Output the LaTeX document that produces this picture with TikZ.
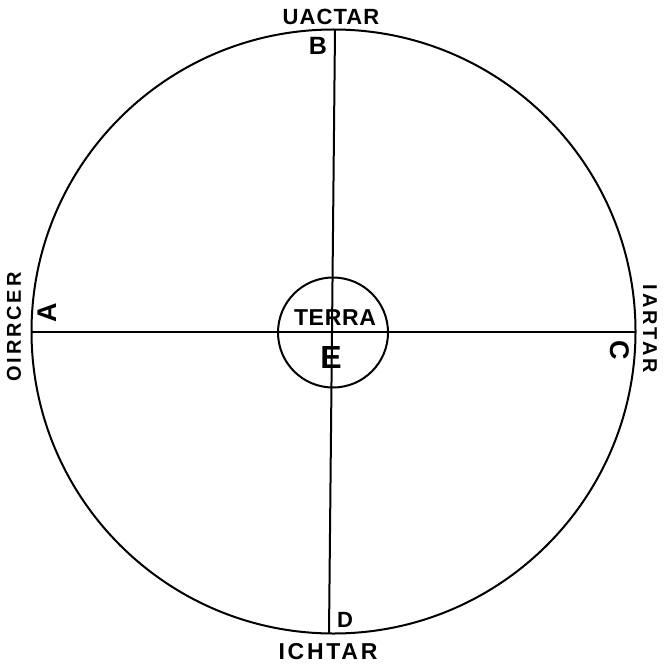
\documentclass[tikz,border=0pt]{standalone}
\usepackage{fontspec}
\setmainfont{Liberation Sans}
\newcommand{\lblfont}[2]{\bfseries\fontsize{#1}{#1}\selectfont\addfontfeature{LetterSpace=#2}}
\begin{document}
\begin{tikzpicture}[x=1pt,y=-1pt,
  line/.style={line width=2pt,black},
  ring/.style={draw,line width=2pt,circle,inner sep=0pt},
  lbl/.style 2 args={inner sep=0pt,font=\lblfont{#1}{#2}}]
\useasboundingbox (0,0) rectangle (666,671);
% circles
\node[ring,minimum size=604pt] (big) at (333.5,331.5) {};
\node[ring,minimum size=110pt] (terra) at (333,332.5) {};
% axis end points on the big circle
\coordinate (top) at (335,29.5);
\coordinate (bot) at (329,633.5);
\coordinate (lft) at (31.5,332);
\coordinate (rgt) at (635.5,332);
\draw[line] (top) -- (bot);
\draw[line] (lft) -- (rgt);
% labels
\node[lbl={22}{5}] (uactar) at (331,17) {UACTAR};
\node[lbl={23}{12}] (ichtar) at (328,652) {ICHTAR};
\node[lbl={20}{14},rotate=90] (oirrcer) at (14,327) {OIRRCER};
\node[lbl={20}{14},rotate=-90] (iartar) at (650,329) {IARTAR};
\node[lbl={25}{0}] (B) at (318,46) {B};
\node[lbl={22}{0}] (D) at (345,620) {D};
\node[lbl={27}{0},rotate=90] (A) at (47,313) {A};
\node[lbl={27}{0},rotate=-90] (C) at (620,350) {C};
\node[lbl={23}{3}] (terratxt) at (335,318) {TERRA};
\node[lbl={32}{0}] (E) at (331,357) {E};
\end{tikzpicture}
\end{document}
